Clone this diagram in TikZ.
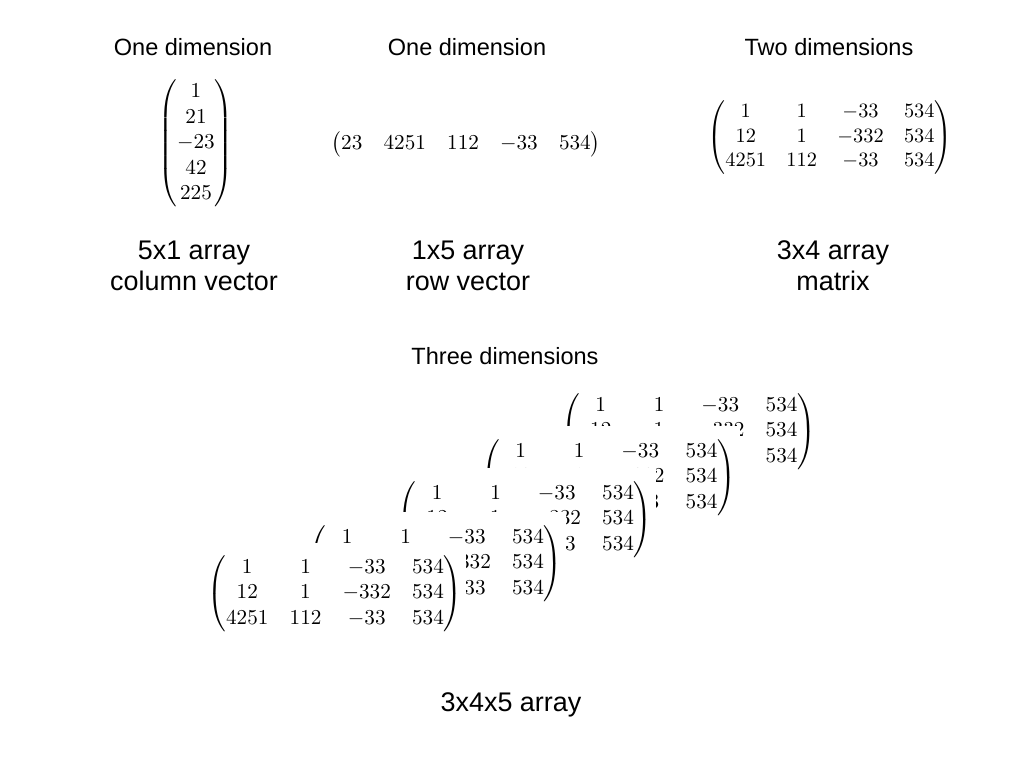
\documentclass[tikz,border=0pt]{standalone}
\usepackage{amsmath}
\usepackage{graphicx}
\usepackage{fontspec}
\newfontfamily\labelfont{Liberation Sans}
\usetikzlibrary{calc}
\newcommand{\slicematrix}{$\begin{pmatrix}1&1&-33&534\\12&1&-332&534\\4251&112&-33&534\end{pmatrix}$}
\begin{document}
\begin{tikzpicture}[x=0.4717pt,y=-0.4717pt,
  title/.style={font=\labelfont\fontsize{11.1}{13}\selectfont},
  caption/.style={font=\labelfont\fontsize{12.7}{14.6}\selectfont,align=center},
  slice/.style={fill=white,inner xsep=1.5pt,inner ysep=6pt}]
\useasboundingbox (0,0) rectangle (1024,768);

\node[title] (tcol) at (193,47) {One dimension};
\node[title] (trow) at (467,47) {One dimension};
\node[title] (tmat) at (829,47) {Two dimensions};
\node[title] (tcube) at (505,356) {Three dimensions};

\node (colvec) at (196,143.5) {$\begin{pmatrix}1\\21\\-23\\42\\225\end{pmatrix}$};
\node (rowvec) at (466,144.5) {$\begin{pmatrix}23&4251&112&-33&534\end{pmatrix}$};
\node (mat) at (830,137.5) {\scalebox{0.96}{\slicematrix}};

\node[caption] (ccol) at (194,265.5) {5x1 array\\column vector};
\node[caption] (crow) at (468,265.5) {1x5 array\\row vector};
\node[caption] (cmat) at (833,265.5) {3x4 array\\matrix};

% slices, back to front
\node[slice] (s5) at (688.5,431.5) {\slicematrix};
\fill[white] (s5.north west) rectangle ($(s5.east)+(0,-39)$);
\node[slice] (s4) at (608.5,477.5) {\slicematrix};
\fill[white] (s4.north west) rectangle ($(s4.east)+(0,-39)$);
\node[slice] (s3) at (525,519.5) {\slicematrix};
\fill[white] (s3.north west) rectangle ($(s3.east)+(0,-39)$);
\node[slice] (s2) at (435,563.5) {\slicematrix};
\fill[white] (s2.north west) rectangle ($(s2.east)+(0,-39)$);
\node[slice] (s1) at (335,593.5) {\slicematrix};

\node[caption] (ccube) at (511,705) {3x4x5 array};
\end{tikzpicture}
\end{document}
